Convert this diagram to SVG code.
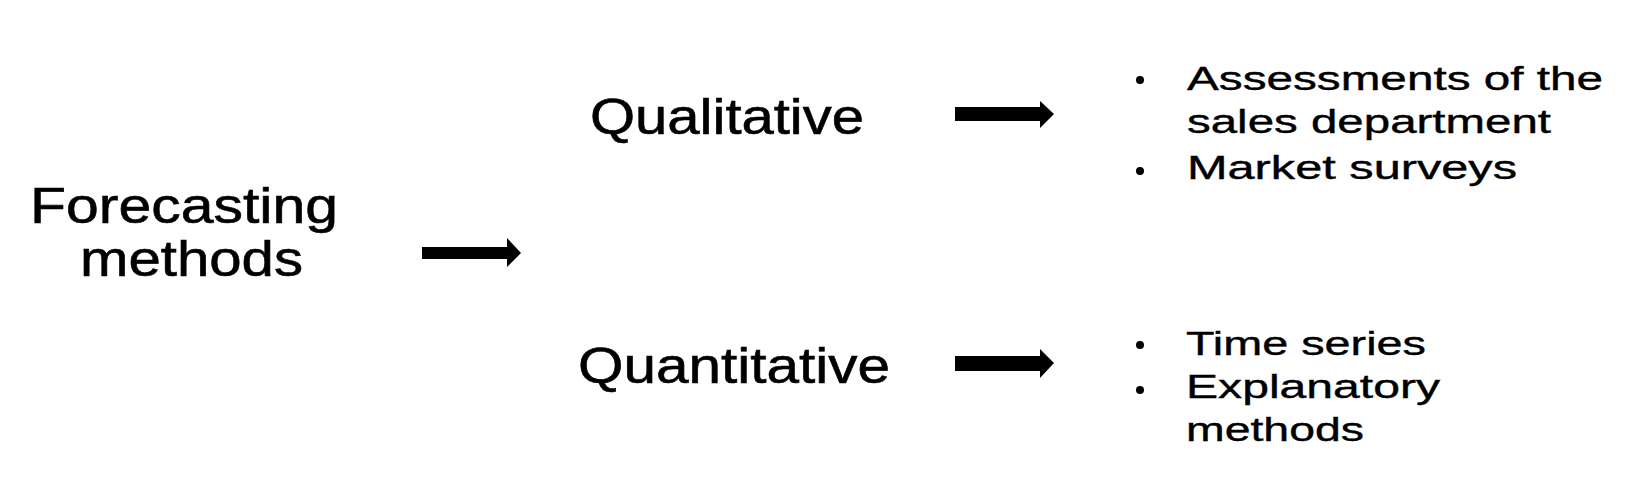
<svg xmlns="http://www.w3.org/2000/svg" width="1650" height="497" viewBox="0 0 1650 497">
<style>
.big{font-family:"Liberation Sans",Arial,sans-serif;font-size:50px;fill:#000;stroke:#000;stroke-width:0.6}
.sm{font-family:"Liberation Sans",Arial,sans-serif;font-size:34px;fill:#000;stroke:#000;stroke-width:0.4}
.arr{fill:#000}
</style>
<rect width="1650" height="497" fill="#fff"/>
<g id="forecasting">
<text class="big" x="30" y="223" textLength="308" lengthAdjust="spacingAndGlyphs">Forecasting</text>
<text class="big" x="80" y="276" textLength="223" lengthAdjust="spacingAndGlyphs">methods</text>
</g>
<g id="qualitative">
<text class="big" x="590" y="134" textLength="274" lengthAdjust="spacingAndGlyphs">Qualitative</text>
</g>
<g id="quantitative">
<text class="big" x="578" y="383" textLength="312" lengthAdjust="spacingAndGlyphs">Quantitative</text>
</g>
<g id="qual-list">
<circle cx="1140" cy="80" r="4"/>
<circle cx="1140" cy="171" r="4"/>
<text class="sm" x="1187" y="90" textLength="416" lengthAdjust="spacingAndGlyphs">Assessments of the</text>
<text class="sm" x="1187" y="133" textLength="364" lengthAdjust="spacingAndGlyphs">sales department</text>
<text class="sm" x="1187" y="179" textLength="330" lengthAdjust="spacingAndGlyphs">Market surveys</text>
</g>
<g id="quant-list">
<circle cx="1140" cy="345" r="4"/>
<circle cx="1140" cy="390" r="4"/>
<text class="sm" x="1186" y="355" textLength="240" lengthAdjust="spacingAndGlyphs">Time series</text>
<text class="sm" x="1186" y="398" textLength="254" lengthAdjust="spacingAndGlyphs">Explanatory</text>
<text class="sm" x="1186" y="441" textLength="178" lengthAdjust="spacingAndGlyphs">methods</text>
</g>
<g id="connectors">
<polygon class="arr" points="422,247 507,247 507,238 521,253 507,267 507,259 422,259"/>
<polygon class="arr" points="955,107 1040,107 1040,101 1054,114 1040,128 1040,121 955,121"/>
<polygon class="arr" points="955,356 1040,356 1040,349 1054,363 1040,378 1040,371 955,371"/>
</g>
</svg>
